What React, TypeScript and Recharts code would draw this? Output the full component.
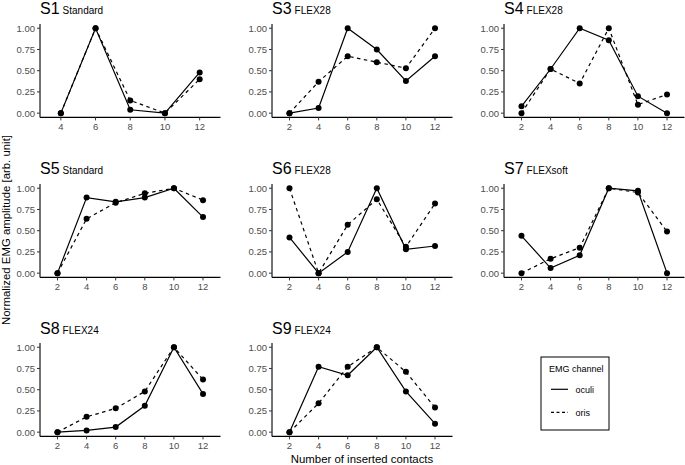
import React from 'react';
import { LineChart, Line, XAxis, YAxis } from 'recharts';

// ---- data ----
const contactsAll = [2, 4, 6, 8, 10, 12];
const contactsS1 = [4, 6, 8, 10, 12];
const yTicks = [0, 0.25, 0.5, 0.75, 1];

const s1Oculi = [0, 1.0, 0.04, 0, 0.48];
const s1Oris = [0, 1.0, 0.15, 0, 0.40];
const s3Oculi = [0, 0.06, 1.0, 0.75, 0.38, 0.67];
const s3Oris = [0, 0.37, 0.67, 0.60, 0.53, 1.0];
const s4Oculi = [0.08, 0.52, 1.0, 0.86, 0.20, 0];
const s4Oris = [0, 0.52, 0.35, 1.0, 0.10, 0.22];
const s5Oculi = [0, 0.89, 0.84, 0.89, 1.0, 0.66];
const s5Oris = [0, 0.64, 0.83, 0.94, 1.0, 0.86];
const s6Oculi = [0.42, 0, 0.25, 1.0, 0.28, 0.32];
const s6Oris = [1.0, 0, 0.57, 0.87, 0.31, 0.82];
const s7Oculi = [0.44, 0.06, 0.21, 1.0, 0.97, 0];
const s7Oris = [0, 0.17, 0.30, 1.0, 0.95, 0.49];
const s8Oculi = [0, 0.02, 0.06, 0.31, 1.0, 0.45];
const s8Oris = [0, 0.18, 0.28, 0.48, 1.0, 0.62];
const s9Oculi = [0, 0.77, 0.67, 1.0, 0.48, 0.10];
const s9Oris = [0, 0.34, 0.77, 1.0, 0.71, 0.29];

const panels = [
  { name: 'S1', sub: 'Standard', x: contactsS1, oculi: s1Oculi, oris: s1Oris },
  { name: 'S3', sub: 'FLEX28', x: contactsAll, oculi: s3Oculi, oris: s3Oris },
  { name: 'S4', sub: 'FLEX28', x: contactsAll, oculi: s4Oculi, oris: s4Oris },
  { name: 'S5', sub: 'Standard', x: contactsAll, oculi: s5Oculi, oris: s5Oris },
  { name: 'S6', sub: 'FLEX28', x: contactsAll, oculi: s6Oculi, oris: s6Oris },
  { name: 'S7', sub: 'FLEXsoft', x: contactsAll, oculi: s7Oculi, oris: s7Oris },
  { name: 'S8', sub: 'FLEX24', x: contactsAll, oculi: s8Oculi, oris: s8Oris },
  { name: 'S9', sub: 'FLEX24', x: contactsAll, oculi: s9Oculi, oris: s9Oris },
];

// ---- layout ----
const FONT = '"Liberation Sans", Arial, Helvetica, sans-serif';
const panelLefts = [39.5, 271.5, 503.5];
const panelTops = [23.75, 183.6, 343.4];
const PW = 180.5;
const PH = 93.4;
const ML = 40;
const MT = 10;
const MR = 4;
const XH = 22;

function Panel({ p, col, row }: any) {
  const data = p.x.map((x: number, i: number) => ({ x, oculi: p.oculi[i], oris: p.oris[i] }));
  const left = panelLefts[col] - ML;
  const top = panelTops[row] - MT;
  const tickStyle = { fontSize: 9.5, fill: '#4D4D4D', fontFamily: FONT };
  return (
    <div style={{ position: 'absolute', left, top }}>
      <LineChart
        width={ML + PW + MR}
        height={MT + PH + XH}
        data={data}
        margin={{ top: MT, right: MR, left: 0, bottom: 0 }}
      >
        <XAxis
          dataKey="x"
          type="number"
          domain={[p.x[0] - 1.2, p.x[p.x.length - 1] + 1.2]}
          ticks={p.x}
          allowDataOverflow
          height={XH}
          axisLine={{ stroke: '#000', strokeWidth: 1.1 }}
          tickLine={{ stroke: '#333', strokeWidth: 1 }}
          tickSize={3}
          tickMargin={3}
          tick={tickStyle}
          interval={0}
        />
        <YAxis
          type="number"
          domain={[-0.05, 1.05]}
          ticks={yTicks}
          allowDataOverflow
          width={ML}
          axisLine={{ stroke: '#000', strokeWidth: 1.1 }}
          tickLine={{ stroke: '#333', strokeWidth: 1 }}
          tickSize={3}
          tickMargin={2}
          tick={tickStyle}
          tickFormatter={(v: number) => v.toFixed(2)}
          interval={0}
        />
        <Line
          dataKey="oris"
          stroke="#000"
          strokeWidth={1.2}
          strokeDasharray="3.5 3.5"
          dot={{ r: 3, fill: '#000', stroke: '#000', strokeWidth: 0 }}
          activeDot={false}
          isAnimationActive={false}
        />
        <Line
          dataKey="oculi"
          stroke="#000"
          strokeWidth={1.2}
          dot={{ r: 3, fill: '#000', stroke: '#000', strokeWidth: 0 }}
          activeDot={false}
          isAnimationActive={false}
        />
      </LineChart>
    </div>
  );
}

export default function App() {
  return (
    <div
      style={{
        position: 'absolute',
        left: 0,
        top: 0,
        width: 685,
        height: 465,
        background: '#fff',
        fontFamily: FONT,
        overflow: 'hidden',
      }}
    >
      {panels.map((p, i) => (
        <Panel key={p.name} p={p} col={i % 3} row={Math.floor(i / 3)} />
      ))}
      <svg
        width={685}
        height={465}
        style={{ position: 'absolute', left: 0, top: 0, pointerEvents: 'none' }}
        fontFamily={FONT}
      >
        {panels.map((p, i) => {
          const col = i % 3;
          const row = Math.floor(i / 3);
          return (
            <text key={p.name} x={panelLefts[col] + 0.5} y={panelTops[row] - 9.5} fill="#000">
              <tspan fontSize={16}>{p.name}</tspan>
              <tspan fontSize={10} dx={3}>{p.sub}</tspan>
            </text>
          );
        })}
        <text x={362} y={462.5} fontSize={11.4} textAnchor="middle" fill="#000">
          Number of inserted contacts
        </text>
        <text
          transform="translate(10,230) rotate(-90)"
          fontSize={11.4}
          textAnchor="middle"
          fill="#000"
        >
          Normalized EMG amplitude [arb. unit]
        </text>
        {/* legend */}
        <rect x={541} y={357} width={68} height={73} fill="#fff" stroke="#000" strokeWidth={1} />
        <text x={549} y={372} fontSize={9} fill="#000">EMG channel</text>
        <line x1={551} x2={568} y1={389.3} y2={389.3} stroke="#000" strokeWidth={1.2} />
        <text x={575.5} y={392.5} fontSize={9} fill="#000">oculi</text>
        <line x1={551} x2={568} y1={412.3} y2={412.3} stroke="#000" strokeWidth={1.2} strokeDasharray="3 2.5" />
        <text x={575.5} y={415.5} fontSize={9} fill="#000">oris</text>
      </svg>
    </div>
  );
}
